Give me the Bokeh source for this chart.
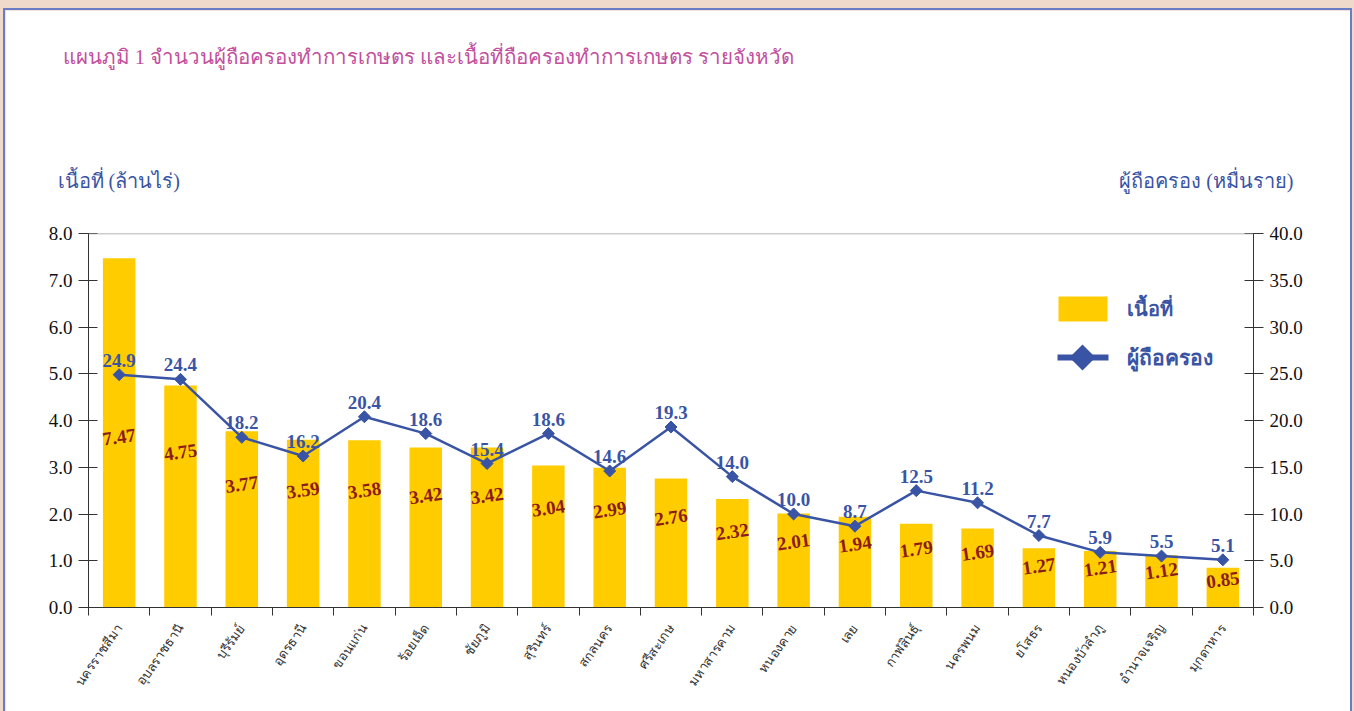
import numpy as np
from bokeh.plotting import figure
from bokeh.models import (Range1d, LinearAxis, FixedTicker, SingleIntervalTicker,
                          PrintfTickFormatter, ColumnDataSource, Label, BoxAnnotation,
                          PolyAnnotation, Span)
from bokeh.core.properties import value
from bokeh.embed import file_html
from bokeh.resources import INLINE

# ---------------- data ----------------
provinces = ["นครราชสีมา", "อุบลราชธานี", "บุรีรัมย์", "อุดรธานี", "ขอนแก่น", "ร้อยเอ็ด",
             "ชัยภูมิ", "สุรินทร์", "สกลนคร", "ศรีสะเกษ", "มหาสารคาม", "หนองคาย", "เลย",
             "กาฬสินธุ์", "นครพนม", "ยโสธร", "หนองบัวลำภู", "อำนาจเจริญ", "มุกดาหาร"]
area_mrai = [7.47, 4.75, 3.77, 3.59, 3.58, 3.42, 3.42, 3.04, 2.99, 2.76, 2.32, 2.01,
             1.94, 1.79, 1.69, 1.27, 1.21, 1.12, 0.85]
holders_10k = [24.9, 24.4, 18.2, 16.2, 20.4, 18.6, 15.4, 18.6, 14.6, 19.3, 14.0, 10.0,
               8.7, 12.5, 11.2, 7.7, 5.9, 5.5, 5.1]

title_text = "แผนภูมิ  1   จำนวนผู้ถือครองทำการเกษตร และเนื้อที่ถือครองทำการเกษตร รายจังหวัด"
left_label = "เนื้อที่ (ล้านไร่)"
right_label = "ผู้ถือครอง (หมื่นราย)"
legend_bar = "เนื้อที่"
legend_line = "ผู้ถือครอง"

# ---------------- styles ----------------
BAR = "#ffcc00"
BLUE = "#3a54a5"
DARKRED = "#8b1c1c"
TITLE = "#c24f9e"
SERIF = "Liberation Serif"

n = len(provinces)
xc = np.arange(n) + 0.5
src = ColumnDataSource(dict(
    x=xc, area=area_mrai, holders=holders_10k,
    area_txt=[f"{v:.2f}" for v in area_mrai],
    holders_txt=[f"{v:.1f}" for v in holders_10k],
    area_lbl_y=[min(0.7 * v, 3.65) for v in area_mrai],
))

p = figure(width=1345, height=701, output_backend="svg", toolbar_location=None,
           x_range=Range1d(0, n), y_range=Range1d(0, 8),
           min_border_left=83, min_border_right=97, min_border_top=223,
           min_border_bottom=104, background_fill_color="white",
           border_fill_color="white", outline_line_color=None)
p.styles = {"outline": "2px solid #6b7bc4"}
p.extra_y_ranges = {"holders": Range1d(0, 40)}
p.grid.visible = False

# bottom axis
xa = p.xaxis[0]
xa.ticker = FixedTicker(ticks=list(xc), minor_ticks=list(range(n + 1)))
xa.major_label_overrides = {float(x): name for x, name in zip(xc, provinces)}
xa.major_tick_line_color = None
xa.minor_tick_line_color = "#333333"
xa.minor_tick_in = 0
xa.minor_tick_out = 8
xa.axis_line_color = "#333333"
xa.major_label_orientation = 0.96
xa.major_label_standoff = 10
xa.major_label_text_font = SERIF
xa.major_label_text_font_size = "13px"
xa.major_label_text_color = "#333333"

# left axis
ya = p.yaxis[0]
ya.ticker = SingleIntervalTicker(interval=1)
ya.formatter = PrintfTickFormatter(format="%.1f")
ya.major_tick_in = 9
ya.major_tick_out = 10
ya.minor_tick_line_color = None
ya.axis_line_color = "#333333"
ya.major_tick_line_color = "#333333"
ya.major_label_text_font = SERIF
ya.major_label_text_font_size = "19px"
ya.major_label_text_color = "#111111"
ya.major_label_standoff = 6

# right axis
ra = LinearAxis(y_range_name="holders", ticker=SingleIntervalTicker(interval=5),
                formatter=PrintfTickFormatter(format="%.1f"))
ra.major_tick_in = 9
ra.major_tick_out = 10
ra.minor_tick_line_color = None
ra.axis_line_color = "#333333"
ra.major_tick_line_color = "#333333"
ra.major_label_text_font = SERIF
ra.major_label_text_font_size = "19px"
ra.major_label_text_color = "#111111"
ra.major_label_standoff = 6
p.add_layout(ra, "right")

p.add_layout(Span(location=8, dimension="width", line_color="#a0a0a0", line_width=1.5))

# bars
p.vbar(x="x", top="area", width=0.53, source=src, fill_color=BAR, line_color=None)
# line
p.line("x", "holders", source=src, y_range_name="holders", line_color=BLUE, line_width=2.5)
p.scatter("x", "holders", source=src, y_range_name="holders", marker="square",
          angle=np.pi / 4, size=8.5, fill_color=BLUE, line_color=BLUE)

# value labels
p.text(x="x", y="area_lbl_y", text="area_txt", source=src, angle=0.14,
       text_align="center", text_baseline="middle", text_font=value(SERIF),
       text_font_style="bold", text_font_size="19px", text_color=DARKRED)
p.text(x="x", y="holders", text="holders_txt", source=src, y_range_name="holders",
       y_offset=-8, text_align="center", text_baseline="bottom", text_font=value(SERIF),
       text_font_style="bold", text_font_size="19px", text_color=BLUE)

# title & axis titles in the top side panel
p.add_layout(Label(x=-31, y=53, x_units="screen", y_units="screen", text=left_label,
                   text_baseline="middle", text_font=SERIF, text_font_size="20px",
                   text_color=BLUE), "above")
p.add_layout(Label(x=1205, y=31, x_units="screen", y_units="screen", text=right_label,
                   text_align="right", text_baseline="middle", text_font=SERIF,
                   text_font_size="20px", text_color=BLUE), "above")
p.add_layout(Label(x=-26, y=133, x_units="screen", y_units="screen", text=title_text,
                   text_baseline="middle", text_font=SERIF, text_font_size="20.5px",
                   text_color=TITLE), "above")

# legend
p.add_layout(BoxAnnotation(left=970, right=1019, top=311, bottom=286,
                           left_units="screen", right_units="screen",
                           top_units="screen", bottom_units="screen",
                           fill_color=BAR, fill_alpha=1, line_color=None))
p.add_layout(BoxAnnotation(left=969, right=1020, top=253, bottom=247,
                           left_units="screen", right_units="screen",
                           top_units="screen", bottom_units="screen",
                           fill_color=BLUE, fill_alpha=1, line_color=None))
p.add_layout(PolyAnnotation(xs=[981, 994, 1007, 994], ys=[250, 263, 250, 237],
                            xs_units="screen", ys_units="screen",
                            fill_color=BLUE, fill_alpha=1, line_color=None))
p.add_layout(Label(x=1038, y=299, x_units="screen", y_units="screen", text=legend_bar,
                   text_baseline="middle", text_font=SERIF, text_font_style="bold",
                   text_font_size="20px", text_color=BLUE))
p.add_layout(Label(x=1038, y=250, x_units="screen", y_units="screen", text=legend_line,
                   text_baseline="middle", text_font=SERIF, text_font_style="bold",
                   text_font_size="21px", text_color=BLUE))

html = file_html(p, INLINE, title="chart")
html = html.replace("<head>", "<head><style>body{background:#efd9cb !important;"
                    "padding:10px 0 0 5px !important;}</style>", 1)
open("out.html", "w").write(html)
